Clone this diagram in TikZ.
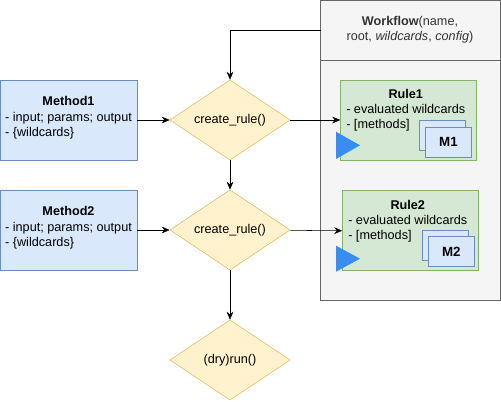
\documentclass[tikz,border=0pt]{standalone}
\usepackage{fontspec}
\setmainfont{Liberation Sans}
\usetikzlibrary{arrows.meta}

\definecolor{methodfill}{HTML}{DAE8FC}
\definecolor{methodline}{HTML}{6C8EBF}
\definecolor{callfill}{HTML}{FFF2CC}
\definecolor{callline}{HTML}{D6B656}
\definecolor{rulefill}{HTML}{D5E8D4}
\definecolor{ruleline}{HTML}{82B366}
\definecolor{wffill}{HTML}{F5F5F5}
\definecolor{wfline}{HTML}{666666}
\definecolor{wftext}{HTML}{333333}
\definecolor{playblue}{HTML}{3A8DF0}

\tikzset{
  method/.style={draw=methodline, fill=methodfill, minimum width=137*0.75pt, minimum height=80*0.75pt, inner sep=0pt},
  call/.style={draw=callline, fill=callfill, inner sep=0pt},
  rulebox/.style={draw=ruleline, fill=rulefill, minimum width=136*0.75pt, minimum height=80*0.75pt, inner sep=0pt},
  mbox/.style={draw=methodline, fill=methodfill, minimum width=46*0.75pt, minimum height=30*0.75pt, inner sep=0pt, font=\bfseries},
  txt/.style={inner sep=0pt, align=left},
}

\begin{document}
\begin{tikzpicture}[x=0.75pt, y=-0.75pt, >={Stealth[length=6pt,width=5pt]}, font=\fontsize{9.5}{11.3}\selectfont]
    \useasboundingbox (0,0) rectangle (501,401);

    % workflow container
    \draw[draw=wfline, fill=wffill] (320.5,0.5) rectangle (500,300);
    \draw[draw=wfline] (320.5,60) -- (500,60);
    \node[txt, align=center, text=wftext] (wf) at (410,30)
      {\textbf{Workflow}(name,\\root, \textit{wildcards}, \textit{config})};
    \coordinate (wfin) at (320.5,30);

    % methods
    \node[method] (M1) at (68.5,120) {};
    \node[txt] at (68.5,118) {\begin{tabular}{@{}l@{}}\multicolumn{1}{@{}c@{}}{\textbf{Method1}}\\- input; params; output\\- \{wildcards\}\end{tabular}};
    \node[method] (M2) at (68.5,230) {};
    \node[txt] at (68.5,228) {\begin{tabular}{@{}l@{}}\multicolumn{1}{@{}c@{}}{\textbf{Method2}}\\- input; params; output\\- \{wildcards\}\end{tabular}};

    % calls
    \draw[call] (230,80) -- (290,120) -- (230,160) -- (170,120) -- cycle;
    \node[inner sep=0pt, minimum width=120*0.75pt, minimum height=80*0.75pt] (C1) at (230,120) {create\_rule()};
    \draw[call] (230,190) -- (290,230) -- (230,270) -- (170,230) -- cycle;
    \node[inner sep=0pt, minimum width=120*0.75pt, minimum height=80*0.75pt] (C2) at (230,230) {create\_rule()};
    \draw[call] (230,320) -- (290,360) -- (230,400) -- (170,360) -- cycle;
    \node[inner sep=0pt, minimum width=120*0.75pt, minimum height=80*0.75pt] (run) at (230,360) {(dry)run()};

    % rules
    \node[rulebox] (R1) at (408.5,120) {};
    \node[txt, anchor=north west] at (346,88) {\begin{tabular}{@{}l@{}}\multicolumn{1}{@{}c@{}}{\textbf{Rule1}}\\- evaluated wildcards\\- [methods]\end{tabular}};
    \node[mbox] (m1b) at (442.5,135.5) {};
    \node[mbox] (m1f) at (448.5,142.3) {M1};
    \fill[playblue] (336,131.7) -- (360,145.3) -- (336,159) -- cycle;

    \node[rulebox] (R2) at (410.5,230.7) {};
    \node[txt, anchor=north west] at (348,198.7) {\begin{tabular}{@{}l@{}}\multicolumn{1}{@{}c@{}}{\textbf{Rule2}}\\- evaluated wildcards\\- [methods]\end{tabular}};
    \node[mbox] (m2b) at (445.3,245) {};
    \node[mbox] (m2f) at (451.3,251.5) {M2};
    \fill[playblue] (336,245.7) -- (360,258.7) -- (336,271.7) -- cycle;

    \draw[->] (wfin) -| (C1.north);
    \draw (M1) edge[->] (C1);
    \draw (M2) edge[->] (C2);
    \draw (C1) edge[->] (R1);
    \draw (C2) edge[->] (R2.west);
    \draw (C1) edge[->] (C2);
    \draw (C2) edge[->] (run);
  \end{tikzpicture}
\end{document}
